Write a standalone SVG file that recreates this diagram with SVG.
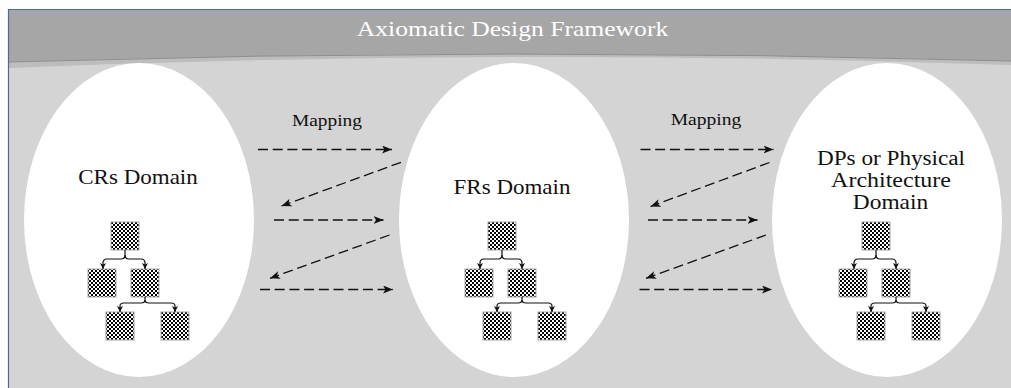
<svg xmlns="http://www.w3.org/2000/svg" xmlns:xlink="http://www.w3.org/1999/xlink" width="1011" height="388" viewBox="0 0 1011 388">
  <style>
    text { font-family: "Liberation Serif", serif; }
    .title { font-size: 21px; fill: #ffffff; }
    .domain-label { font-size: 20px; fill: #111111; }
    .map-label { font-size: 17px; fill: #111111; }
    .domain-shape { fill: #ffffff; }
    .map-arrow { fill: none; stroke: #111111; stroke-width: 1.3; stroke-dasharray: 10 4.7; marker-end: url(#stealth); }
    .tree-link-arrow { fill: none; stroke: #111111; stroke-width: 1.2; marker-end: url(#tip); }
    .tree-box { fill: url(#checker); stroke: #a8a8a8; stroke-width: 1; }
  </style>
  <defs>
    <!-- fine 2px checkerboard used for the hierarchy blocks -->
    <pattern id="checker" width="4" height="4" patternUnits="userSpaceOnUse">
      <rect width="4" height="4" fill="#ffffff"/>
      <rect width="2" height="2" fill="#000000"/>
      <rect x="2" y="2" width="2" height="2" fill="#000000"/>
    </pattern>
    <marker id="stealth" viewBox="0 0 10 8" refX="10" refY="4" markerWidth="10" markerHeight="8" markerUnits="userSpaceOnUse" orient="auto">
      <path d="M0,0 L10,4 L0,8 L2.5,4 Z" fill="#111111"/>
    </marker>
    <marker id="tip" viewBox="0 0 6 6" refX="6" refY="3" markerWidth="6" markerHeight="6" markerUnits="userSpaceOnUse" orient="auto">
      <path d="M0,0 L6,3 L0,6 L1.5,3 Z" fill="#111111"/>
    </marker>
    <!-- two-level decomposition tree, origin at the root block's top-left -->
    <g id="tree">
      <rect class="tree-box" x="0" y="0" width="28" height="28"/>
      <rect class="tree-box" x="-23" y="47" width="28" height="28"/>
      <rect class="tree-box" x="20" y="47" width="28" height="28"/>
      <rect class="tree-box" x="-5" y="90" width="28" height="28"/>
      <rect class="tree-box" x="50" y="90" width="28" height="28"/>
      <path class="tree-link-arrow" d="M14,28 V33 Q14,37 10,37 H-4 Q-8,37 -8,41 V47"/>
      <path class="tree-link-arrow" d="M14,33 Q14,37 18,37 H30 Q34,37 34,41 V47"/>
      <path class="tree-link-arrow" d="M34,75 V78 Q34,81 30,81 H13 Q9,81 9,84 V90"/>
      <path class="tree-link-arrow" d="M34,78 Q34,81 38,81 H60 Q64,81 64,84 V90"/>
    </g>
  </defs>

  <!-- frame background -->
  <rect x="8" y="9" width="1003" height="379" fill="#d4d4d4"/>
  <!-- header band with curved lower edge -->
  <path d="M8,9 H1011 V65 Q510,47.5 8,68 Z" fill="#bdbdbd"/>
  <path d="M8,9 H1011 V61 Q510,46.5 8,62 Z" fill="#a6a6a6"/>
  <path d="M1011,61 Q510,46.5 8,62" fill="none" stroke="#8e8e8e" stroke-width="1"/>
  <!-- frame border (top and left) -->
  <path d="M8.5,388 V9.5 H1011" fill="none" stroke="#4a6aa6" stroke-width="1.2"/>

  <!-- labels are widened slightly with a horizontal scale about their centre -->
  <text class="title" transform="translate(512.5 36) scale(1.22 1)" text-anchor="middle">Axiomatic Design Framework</text>

  <g id="crs-domain">
    <ellipse class="domain-shape" cx="139" cy="220" rx="115" ry="157"/>
    <text class="domain-label" transform="translate(138 184) scale(1.15 1)" text-anchor="middle">CRs Domain</text>
    <use xlink:href="#tree" x="111" y="222"/>
  </g>

  <g id="frs-domain">
    <ellipse class="domain-shape" cx="514" cy="220" rx="115" ry="157"/>
    <text class="domain-label" transform="translate(512 194) scale(1.15 1)" text-anchor="middle">FRs Domain</text>
    <use xlink:href="#tree" x="488" y="222"/>
  </g>

  <g id="dps-domain">
    <ellipse class="domain-shape" cx="887" cy="220" rx="115" ry="157"/>
    <text class="domain-label" transform="translate(891 165) scale(1.16 1)" text-anchor="middle">DPs or Physical</text>
    <text class="domain-label" transform="translate(891 187) scale(1.2 1)" text-anchor="middle">Architecture</text>
    <text class="domain-label" transform="translate(890.5 208.5) scale(1.17 1)" text-anchor="middle">Domain</text>
    <use xlink:href="#tree" x="862" y="222"/>
  </g>

  <g id="mapping-labels">
    <text class="map-label" transform="translate(327 126) scale(1.14 1)" text-anchor="middle">Mapping</text>
    <text class="map-label" transform="translate(706 125) scale(1.15 1)" text-anchor="middle">Mapping</text>
  </g>

  <g id="connectors">
    <!-- CRs to FRs zigzag mapping -->
    <line class="map-arrow" x1="258" y1="149.5" x2="392" y2="149.5"/>
    <line class="map-arrow" x1="401" y1="162.3" x2="281.5" y2="206"/>
    <line class="map-arrow" x1="274" y1="220" x2="383.5" y2="220"/>
    <line class="map-arrow" x1="389.5" y1="235" x2="270" y2="278.3"/>
    <line class="map-arrow" x1="260" y1="289.5" x2="393" y2="289.5"/>
    <!-- FRs to DPs zigzag mapping -->
    <line class="map-arrow" x1="640.5" y1="149.5" x2="773.5" y2="149.5"/>
    <line class="map-arrow" x1="769.5" y1="162.5" x2="650.5" y2="206.5"/>
    <line class="map-arrow" x1="648" y1="220" x2="757.5" y2="220"/>
    <line class="map-arrow" x1="766" y1="235" x2="646" y2="278.3"/>
    <line class="map-arrow" x1="639.5" y1="289.5" x2="772" y2="289.5"/>
  </g>
</svg>
